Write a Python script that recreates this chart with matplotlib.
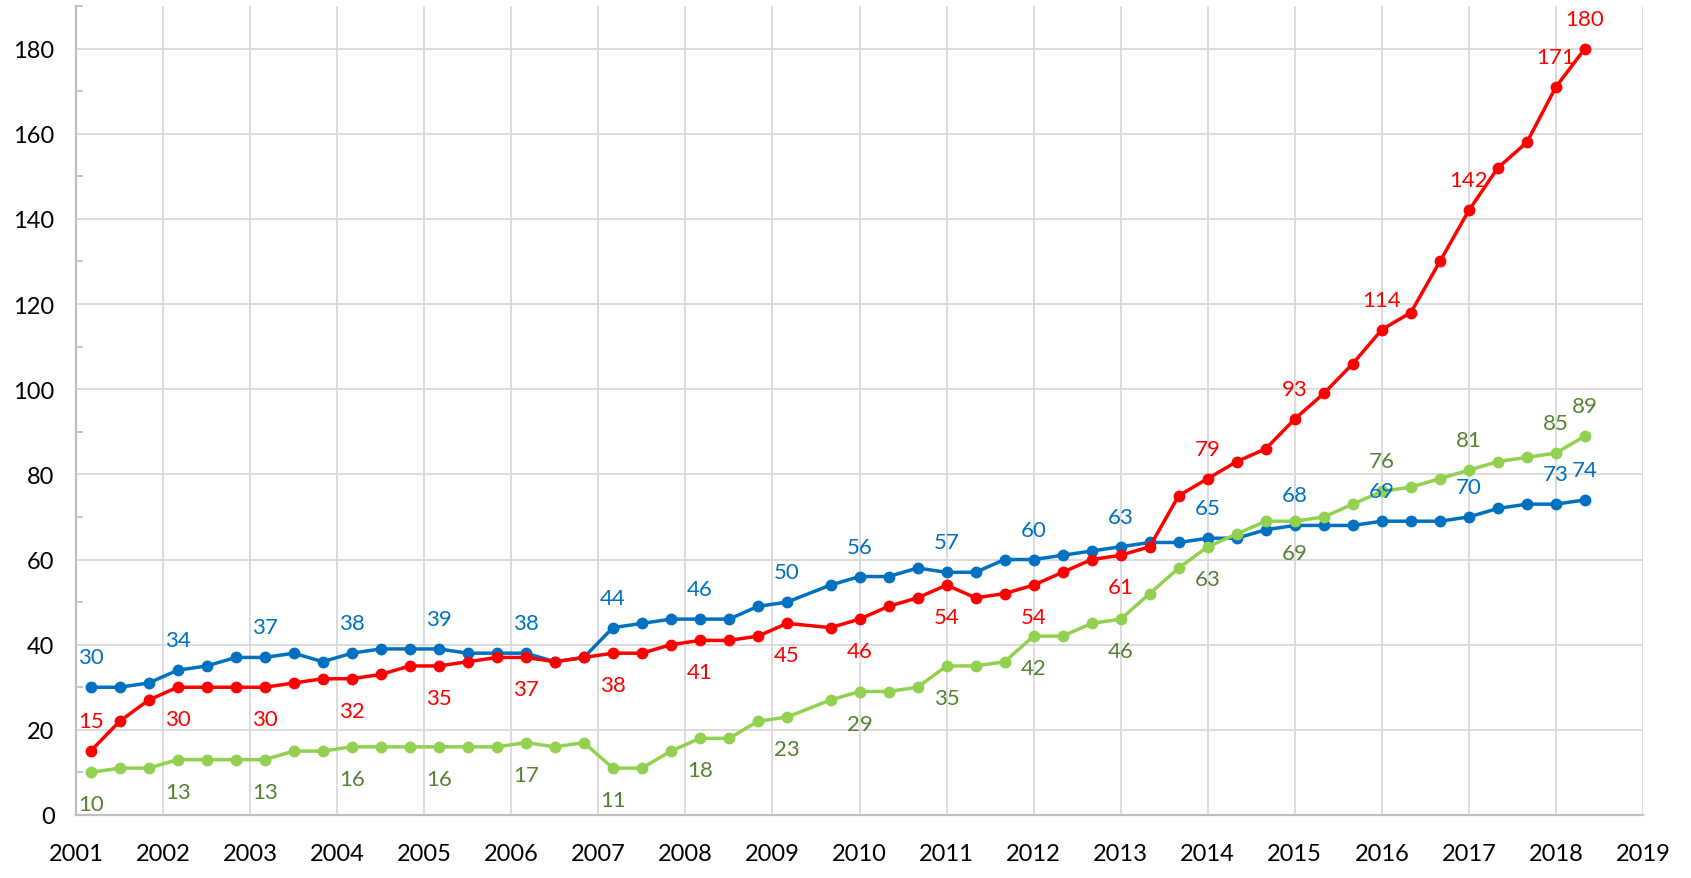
import matplotlib
matplotlib.use("Agg")
import matplotlib.pyplot as plt
from matplotlib.ticker import MultipleLocator

plt.rcParams['font.family'] = ['Lato', 'DejaVu Sans']

# ---- data ----
months = (
    ["2001-03", "2001-07", "2001-11", "2002-03", "2002-07", "2002-11",
     "2003-03", "2003-07", "2003-11", "2004-03", "2004-07", "2004-11",
     "2005-03", "2005-07", "2005-11", "2006-03", "2006-07", "2006-11",
     "2007-03", "2007-07", "2007-11", "2008-03", "2008-07", "2008-11",
     "2009-03", "2009-09",
     "2010-01", "2010-05", "2010-09", "2011-01", "2011-05", "2011-09",
     "2012-01", "2012-05", "2012-09", "2013-01", "2013-05", "2013-09",
     "2014-01", "2014-05", "2014-09", "2015-01", "2015-05", "2015-09",
     "2016-01", "2016-05", "2016-09", "2017-01", "2017-05", "2017-09",
     "2018-01", "2018-05"]
)

blue = [30, 30, 31, 34, 35, 37, 37, 38, 36, 38, 39, 39, 39, 38, 38, 38, 36, 37,
        44, 45, 46, 46, 46, 49, 50, 54, 56, 56, 58, 57, 57, 60, 60, 61, 62, 63,
        64, 64, 65, 65, 67, 68, 68, 68, 69, 69, 69, 70, 72, 73, 73, 74]
red = [15, 22, 27, 30, 30, 30, 30, 31, 32, 32, 33, 35, 35, 36, 37, 37, 36, 37,
       38, 38, 40, 41, 41, 42, 45, 44, 46, 49, 51, 54, 51, 52, 54, 57, 60, 61,
       63, 75, 79, 83, 86, 93, 99, 106, 114, 118, 130, 142, 152, 158, 171, 180]
green = [10, 11, 11, 13, 13, 13, 13, 15, 15, 16, 16, 16, 16, 16, 16, 17, 16, 17,
         11, 11, 15, 18, 18, 22, 23, 27, 29, 29, 30, 35, 35, 36, 42, 42, 45, 46,
         52, 58, 63, 66, 69, 69, 70, 73, 76, 77, 79, 81, 83, 84, 85, 89]

labeled_idx = [0, 3, 6, 9, 12, 15, 18, 21, 24, 26, 29, 32, 35, 38, 41, 44, 47, 50, 51]
year_ticks = list(range(2001, 2020))

x = [int(m[:4]) + (int(m[5:]) - 1) / 12 for m in months]

BLUE = "#0070C0"
RED = "#FF0000"
GREEN = "#92D050"
GREEN_TXT = "#548235"
GRID = "#D9D9D9"
AXIS = "#BFBFBF"

fig = plt.figure(figsize=(16.91, 8.79), dpi=100)
ax = fig.add_axes([0.045, 0.0717, 0.9266, 0.9203])

series = [
    (blue, BLUE, BLUE, lambda i: True),
    (red, RED, RED, lambda i: i == 0 or i >= 38),
    (green, GREEN, GREEN_TXT, lambda i: i >= 44),
]

for vals, col, tcol, above in series:
    ax.plot(x, vals, color=col, lw=2.5, marker='o', ms=7.5, zorder=3,
            solid_capstyle='round')

for vals, col, tcol, above in series:
    for i in labeled_idx:
        up = above(i)
        ax.annotate(str(vals[i]), (x[i], vals[i]),
                    xytext=(0, 30 if up else -32), textcoords='offset pixels',
                    ha='center', va='center', fontsize=16, color=tcol, zorder=5)

ax.set_xlim(2001, 2019)
ax.set_ylim(0, 190)
ax.set_xticks(year_ticks)
ax.set_xticklabels([str(y) for y in year_ticks])
ax.set_yticks(range(0, 181, 20))
ax.yaxis.set_minor_locator(MultipleLocator(10))

ax.grid(True, which='major', color=GRID, lw=1.3, zorder=0)
ax.tick_params(axis='both', which='major', length=0, labelsize=17, colors='black')
ax.tick_params(axis='y', which='major', pad=15.5)
ax.tick_params(axis='x', which='major', pad=20.5)
ax.tick_params(axis='y', which='minor', direction='in', length=5, width=1.3, color=AXIS)
ax.tick_params(axis='x', which='minor', length=0)

for s in ['top', 'right']:
    ax.spines[s].set_visible(False)
for s in ['left', 'bottom']:
    ax.spines[s].set_color(AXIS)
    ax.spines[s].set_linewidth(1.6)

ax.set_axisbelow(True)
fig.savefig("out.png", dpi=100)
